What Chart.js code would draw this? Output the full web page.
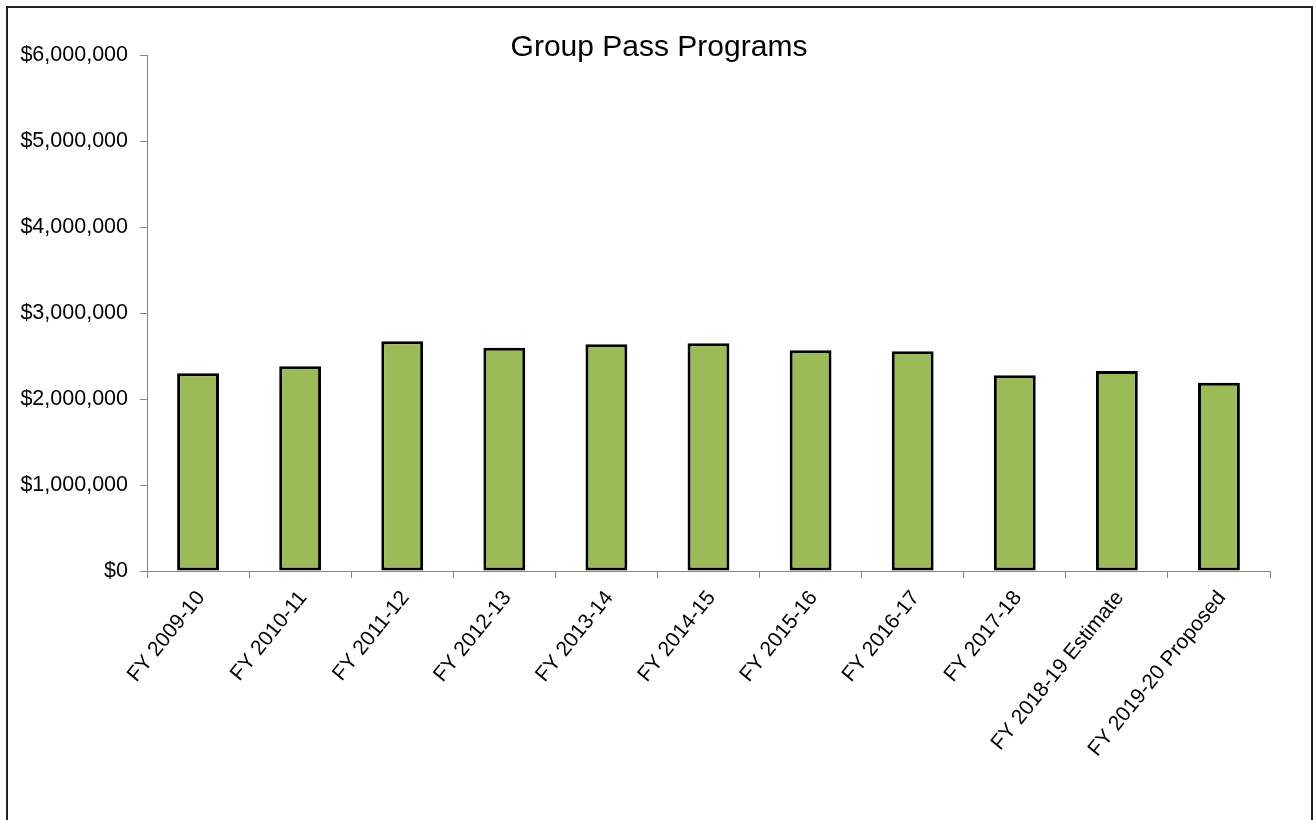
<!DOCTYPE html>
<html>
<head>
<meta charset="utf-8">
<script src="https://cdn.jsdelivr.net/npm/chart.js@4"></script>
<style>
  html, body { margin: 0; padding: 0; background: #fff; }
  #wrap { position: relative; width: 1316px; height: 820px; }
  #frame { position: absolute; left: 6px; top: 6px; width: 1307px; height: 830px; border: 2px solid #222; border-bottom: none; box-sizing: border-box; pointer-events: none; }
</style>
</head>
<body>
<div id="wrap">
  <canvas id="myChart" width="1316" height="820"></canvas>
  <div id="frame"></div>
</div>
<script>
// values
const categories = ['FY 2009-10', 'FY 2010-11', 'FY 2011-12', 'FY 2012-13', 'FY 2013-14', 'FY 2014-15',
  'FY 2015-16', 'FY 2016-17', 'FY 2017-18', 'FY 2018-19 Estimate', 'FY 2019-20 Proposed']
const revenue = [2299000, 2380000, 2671000, 2597000, 2636000, 2647000, 2566000, 2555000, 2275000, 2326000, 2190000]
const titleText = 'Group Pass Programs'
const yMax = 6000000
const yStep = 1000000

const font = "'Liberation Sans', Arial, sans-serif"

const titlePlugin = {
  id: 'ownTitle',
  afterDraw(chart) {
    const c = chart.ctx
    c.save()
    c.font = '30px ' + font
    c.fillStyle = '#000'
    c.textAlign = 'center'
    c.textBaseline = 'alphabetic'
    c.fillText(titleText, 659, 56)
    c.restore()
  }
}

const ctx = document.getElementById('myChart')
const chart = new Chart(ctx, {
  type: 'bar',
  data: {
    labels: categories,
    datasets: [{
      label: titleText,
      data: revenue,
      backgroundColor: '#9BBB59',
      borderColor: '#000',
      borderWidth: 3,
      borderSkipped: false,
      barPercentage: 0.41,
      categoryPercentage: 1
    }]
  },
  options: {
    responsive: false,
    animation: false,
    devicePixelRatio: 1,
    layout: { padding: { top: 55, right: 46, bottom: 0, left: 0 } },
    plugins: {
      legend: { display: false },
      title: { display: false },
      tooltip: { enabled: false }
    },
    scales: {
      x: {
        offset: true,
        grid: { display: true, offset: true, drawOnChartArea: false, tickLength: 7, color: '#868686' },
        border: { display: true, color: '#868686', width: 1 },
        ticks: {
          color: '#000',
          font: { family: font, size: 21 },
          minRotation: 51,
          maxRotation: 51,
          autoSkip: false,
          padding: 8,
          labelOffset: 3
        },
        afterFit(scale) { scale.height = 249 }
      },
      y: {
        min: 0,
        max: yMax,
        grid: { display: true, drawOnChartArea: false, tickLength: 7, color: '#868686' },
        border: { display: true, color: '#868686', width: 1 },
        ticks: {
          stepSize: yStep,
          color: '#000',
          font: { family: font, size: 21.5 },
          padding: 12,
          callback: (v) => '$' + v.toLocaleString('en-US')
        },
        afterFit(scale) { scale.width = 147 }
      }
    }
  },
  plugins: [titlePlugin]
})
</script>
</body>
</html>
